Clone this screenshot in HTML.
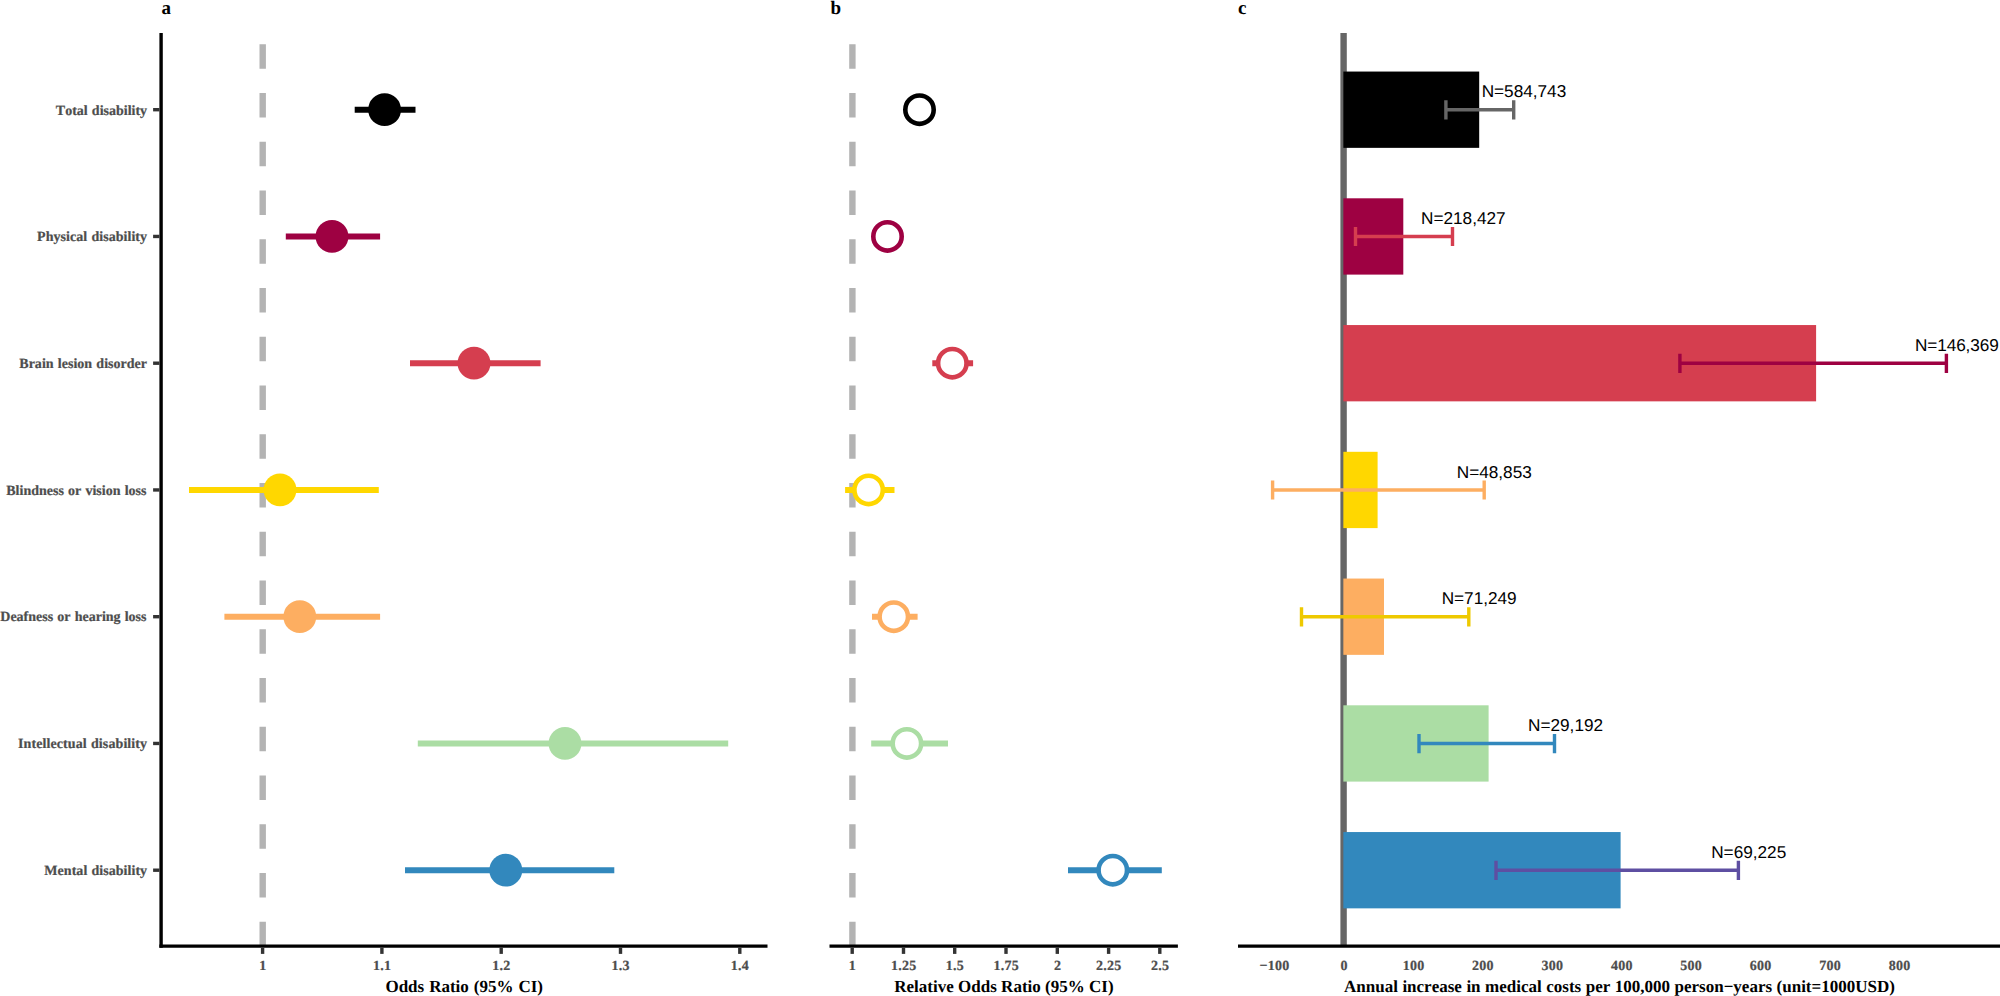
<!DOCTYPE html>
<html lang="en"><head><meta charset="utf-8"><title>Figure</title>
<style>html,body{margin:0;padding:0;background:#fff;}body{width:2000px;height:996px;overflow:hidden;}svg{display:block;}text{font-kerning:none;text-rendering:geometricPrecision;}</style>
</head><body>
<svg width="2000" height="996" viewBox="0 0 2000 996">
<rect width="2000" height="996" fill="#fff"/>
<g id="pa">
<line x1="262.7" y1="946.15" x2="262.7" y2="32.9" stroke="#B3B3B3" stroke-width="6.4" stroke-dasharray="24.4 24.35"/>
<line x1="354.7" y1="109.7" x2="415.5" y2="109.7" stroke="#000000" stroke-width="6.1"/>
<circle cx="384.6" cy="109.7" r="16.4" fill="#000000"/>
<line x1="285.8" y1="236.45" x2="380.1" y2="236.45" stroke="#9E0142" stroke-width="6.1"/>
<circle cx="332.0" cy="236.45" r="16.4" fill="#9E0142"/>
<line x1="410.0" y1="363.2" x2="540.6" y2="363.2" stroke="#D53E4F" stroke-width="6.1"/>
<circle cx="474.0" cy="363.2" r="16.4" fill="#D53E4F"/>
<line x1="189.0" y1="489.95" x2="378.8" y2="489.95" stroke="#FFD700" stroke-width="6.1"/>
<circle cx="280.0" cy="489.95" r="16.4" fill="#FFD700"/>
<line x1="224.4" y1="616.7" x2="380.1" y2="616.7" stroke="#FDAE61" stroke-width="6.1"/>
<circle cx="299.8" cy="616.7" r="16.4" fill="#FDAE61"/>
<line x1="417.8" y1="743.45" x2="728.2" y2="743.45" stroke="#ABDDA4" stroke-width="6.1"/>
<circle cx="565.0" cy="743.45" r="16.4" fill="#ABDDA4"/>
<line x1="405.0" y1="870.2" x2="614.3" y2="870.2" stroke="#3288BD" stroke-width="6.1"/>
<circle cx="505.8" cy="870.2" r="16.4" fill="#3288BD"/>
<line x1="161.1" y1="32.9" x2="161.1" y2="947.8" stroke="#000" stroke-width="3.4"/>
<line x1="159.4" y1="946.15" x2="767.5" y2="946.15" stroke="#000" stroke-width="3.3"/>
<line x1="153.1" y1="109.7" x2="159.5" y2="109.7" stroke="#333" stroke-width="3.4"/>
<text x="147.10" y="115" text-anchor="end" font-family="'Liberation Serif', 'Times New Roman', serif" font-weight="bold" font-size="14" word-spacing="0.65" fill="#4D4D4D" stroke="#4D4D4D" stroke-width="0.22">Total disability</text>
<line x1="153.1" y1="236.45" x2="159.5" y2="236.45" stroke="#333" stroke-width="3.4"/>
<text x="147.15" y="241" text-anchor="end" font-family="'Liberation Serif', 'Times New Roman', serif" font-weight="bold" font-size="14" word-spacing="0.65" letter-spacing="0.047" fill="#4D4D4D" stroke="#4D4D4D" stroke-width="0.22">Physical disability</text>
<line x1="153.1" y1="363.2" x2="159.5" y2="363.2" stroke="#333" stroke-width="3.4"/>
<text x="147.12" y="368" text-anchor="end" font-family="'Liberation Serif', 'Times New Roman', serif" font-weight="bold" font-size="14" word-spacing="0.65" letter-spacing="0.025" fill="#4D4D4D" stroke="#4D4D4D" stroke-width="0.22">Brain lesion disorder</text>
<line x1="153.1" y1="489.95" x2="159.5" y2="489.95" stroke="#333" stroke-width="3.4"/>
<text x="146.51" y="495" text-anchor="end" font-family="'Liberation Serif', 'Times New Roman', serif" font-weight="bold" font-size="14" word-spacing="0.65" letter-spacing="0.009" fill="#4D4D4D" stroke="#4D4D4D" stroke-width="0.22">Blindness or vision loss</text>
<line x1="153.1" y1="616.7" x2="159.5" y2="616.7" stroke="#333" stroke-width="3.4"/>
<text x="146.50" y="621" text-anchor="end" font-family="'Liberation Serif', 'Times New Roman', serif" font-weight="bold" font-size="14" word-spacing="0.65" fill="#4D4D4D" stroke="#4D4D4D" stroke-width="0.22">Deafness or hearing loss</text>
<line x1="153.1" y1="743.45" x2="159.5" y2="743.45" stroke="#333" stroke-width="3.4"/>
<text x="147.19" y="748" text-anchor="end" font-family="'Liberation Serif', 'Times New Roman', serif" font-weight="bold" font-size="14" word-spacing="0.65" letter-spacing="0.095" fill="#4D4D4D" stroke="#4D4D4D" stroke-width="0.22">Intellectual disability</text>
<line x1="153.1" y1="870.2" x2="159.5" y2="870.2" stroke="#333" stroke-width="3.4"/>
<text x="147.14" y="875" text-anchor="end" font-family="'Liberation Serif', 'Times New Roman', serif" font-weight="bold" font-size="14" word-spacing="0.65" letter-spacing="0.037" fill="#4D4D4D" stroke="#4D4D4D" stroke-width="0.22">Mental disability</text>
<line x1="262.6" y1="947.65" x2="262.6" y2="953.9" stroke="#333" stroke-width="3.4"/>
<text x="262.75" y="969.55" text-anchor="middle" font-family="'Liberation Serif', 'Times New Roman', serif" font-weight="bold" font-size="14" letter-spacing="0.25" fill="#4D4D4D" stroke="#4D4D4D" stroke-width="0.22">1</text>
<line x1="381.9" y1="947.65" x2="381.9" y2="953.9" stroke="#333" stroke-width="3.4"/>
<text x="382.05" y="969.55" text-anchor="middle" font-family="'Liberation Serif', 'Times New Roman', serif" font-weight="bold" font-size="14" letter-spacing="0.25" fill="#4D4D4D" stroke="#4D4D4D" stroke-width="0.22">1.1</text>
<line x1="501.2" y1="947.65" x2="501.2" y2="953.9" stroke="#333" stroke-width="3.4"/>
<text x="501.35" y="969.55" text-anchor="middle" font-family="'Liberation Serif', 'Times New Roman', serif" font-weight="bold" font-size="14" letter-spacing="0.25" fill="#4D4D4D" stroke="#4D4D4D" stroke-width="0.22">1.2</text>
<line x1="620.5" y1="947.65" x2="620.5" y2="953.9" stroke="#333" stroke-width="3.4"/>
<text x="620.65" y="969.55" text-anchor="middle" font-family="'Liberation Serif', 'Times New Roman', serif" font-weight="bold" font-size="14" letter-spacing="0.25" fill="#4D4D4D" stroke="#4D4D4D" stroke-width="0.22">1.3</text>
<line x1="739.8" y1="947.65" x2="739.8" y2="953.9" stroke="#333" stroke-width="3.4"/>
<text x="739.95" y="969.55" text-anchor="middle" font-family="'Liberation Serif', 'Times New Roman', serif" font-weight="bold" font-size="14" letter-spacing="0.25" fill="#4D4D4D" stroke="#4D4D4D" stroke-width="0.22">1.4</text>
<text x="464.2" y="991.7" text-anchor="middle" font-family="'Liberation Serif', 'Times New Roman', serif" font-weight="bold" font-size="17" word-spacing="0.72" fill="#000">Odds Ratio (95% CI)</text>
<text x="161.5" y="13.5" font-family="'Liberation Serif', 'Times New Roman', serif" font-weight="bold" font-size="19" fill="#000">a</text>
</g>
<g id="pb">
<line x1="852.4" y1="946.15" x2="852.4" y2="32.9" stroke="#B3B3B3" stroke-width="6.4" stroke-dasharray="24.4 24.35"/>
<line x1="915" y1="109.7" x2="924" y2="109.7" stroke="#000000" stroke-width="6.1"/>
<circle cx="919.5" cy="109.7" r="14.2" fill="#fff" stroke="#000000" stroke-width="4.6"/>
<line x1="884" y1="236.45" x2="891" y2="236.45" stroke="#9E0142" stroke-width="6.1"/>
<circle cx="887.5" cy="236.45" r="14.2" fill="#fff" stroke="#9E0142" stroke-width="4.6"/>
<line x1="932.3" y1="363.2" x2="973.1" y2="363.2" stroke="#D53E4F" stroke-width="6.1"/>
<circle cx="952.3" cy="363.2" r="14.2" fill="#fff" stroke="#D53E4F" stroke-width="4.6"/>
<line x1="845.1" y1="489.95" x2="894.5" y2="489.95" stroke="#FFD700" stroke-width="6.1"/>
<circle cx="868.6" cy="489.95" r="14.2" fill="#fff" stroke="#FFD700" stroke-width="4.6"/>
<line x1="872.0" y1="616.7" x2="917.6" y2="616.7" stroke="#FDAE61" stroke-width="6.1"/>
<circle cx="893.8" cy="616.7" r="14.2" fill="#fff" stroke="#FDAE61" stroke-width="4.6"/>
<line x1="871.2" y1="743.45" x2="948.0" y2="743.45" stroke="#ABDDA4" stroke-width="6.1"/>
<circle cx="906.9" cy="743.45" r="14.2" fill="#fff" stroke="#ABDDA4" stroke-width="4.6"/>
<line x1="1068.0" y1="870.2" x2="1161.8" y2="870.2" stroke="#3288BD" stroke-width="6.1"/>
<circle cx="1112.8" cy="870.2" r="14.2" fill="#fff" stroke="#3288BD" stroke-width="4.6"/>
<line x1="829.5" y1="946.15" x2="1177.9" y2="946.15" stroke="#000" stroke-width="3.3"/>
<line x1="852.2" y1="947.65" x2="852.2" y2="953.9" stroke="#333" stroke-width="3.4"/>
<text x="852.4" y="969.55" text-anchor="middle" font-family="'Liberation Serif', 'Times New Roman', serif" font-weight="bold" font-size="14" letter-spacing="0.25" fill="#4D4D4D" stroke="#4D4D4D" stroke-width="0.22">1</text>
<line x1="903.5" y1="947.65" x2="903.5" y2="953.9" stroke="#333" stroke-width="3.4"/>
<text x="903.7" y="969.55" text-anchor="middle" font-family="'Liberation Serif', 'Times New Roman', serif" font-weight="bold" font-size="14" letter-spacing="0.25" fill="#4D4D4D" stroke="#4D4D4D" stroke-width="0.22">1.25</text>
<line x1="954.7" y1="947.65" x2="954.7" y2="953.9" stroke="#333" stroke-width="3.4"/>
<text x="954.9" y="969.55" text-anchor="middle" font-family="'Liberation Serif', 'Times New Roman', serif" font-weight="bold" font-size="14" letter-spacing="0.25" fill="#4D4D4D" stroke="#4D4D4D" stroke-width="0.22">1.5</text>
<line x1="1006.0" y1="947.65" x2="1006.0" y2="953.9" stroke="#333" stroke-width="3.4"/>
<text x="1006.2" y="969.55" text-anchor="middle" font-family="'Liberation Serif', 'Times New Roman', serif" font-weight="bold" font-size="14" letter-spacing="0.25" fill="#4D4D4D" stroke="#4D4D4D" stroke-width="0.22">1.75</text>
<line x1="1057.3" y1="947.65" x2="1057.3" y2="953.9" stroke="#333" stroke-width="3.4"/>
<text x="1057.5" y="969.55" text-anchor="middle" font-family="'Liberation Serif', 'Times New Roman', serif" font-weight="bold" font-size="14" letter-spacing="0.25" fill="#4D4D4D" stroke="#4D4D4D" stroke-width="0.22">2</text>
<line x1="1108.6" y1="947.65" x2="1108.6" y2="953.9" stroke="#333" stroke-width="3.4"/>
<text x="1108.8" y="969.55" text-anchor="middle" font-family="'Liberation Serif', 'Times New Roman', serif" font-weight="bold" font-size="14" letter-spacing="0.25" fill="#4D4D4D" stroke="#4D4D4D" stroke-width="0.22">2.25</text>
<line x1="1159.8" y1="947.65" x2="1159.8" y2="953.9" stroke="#333" stroke-width="3.4"/>
<text x="1160.0" y="969.55" text-anchor="middle" font-family="'Liberation Serif', 'Times New Roman', serif" font-weight="bold" font-size="14" letter-spacing="0.25" fill="#4D4D4D" stroke="#4D4D4D" stroke-width="0.22">2.5</text>
<text x="1003.95" y="991.7" text-anchor="middle" font-family="'Liberation Serif', 'Times New Roman', serif" font-weight="bold" font-size="17" word-spacing="0.05" fill="#000">Relative Odds Ratio (95% CI)</text>
<text x="830.5" y="13.5" font-family="'Liberation Serif', 'Times New Roman', serif" font-weight="bold" font-size="19" fill="#000">b</text>
</g>
<g id="pc">
<line x1="1343.6" y1="32.9" x2="1343.6" y2="946.15" stroke="#666666" stroke-width="6.4"/>
<rect x="1343.35" y="71.55" width="135.85" height="76.3" fill="#000000"/>
<rect x="1343.35" y="198.30" width="59.95" height="76.3" fill="#9E0142"/>
<rect x="1343.35" y="325.05" width="472.75" height="76.3" fill="#D53E4F"/>
<rect x="1343.35" y="451.80" width="34.25" height="76.3" fill="#FFD700"/>
<rect x="1343.35" y="578.55" width="40.65" height="76.3" fill="#FDAE61"/>
<rect x="1343.35" y="705.30" width="145.25" height="76.3" fill="#ABDDA4"/>
<rect x="1343.35" y="832.05" width="277.25" height="76.3" fill="#3288BD"/>
<path d="M1445.9 100.2V119.4M1445.9 109.7H1513.7M1513.7 100.2V119.4" stroke="#666666" stroke-width="3.4" fill="none"/>
<text x="1481.65" y="97" font-family="'Liberation Sans', Arial, sans-serif" font-size="17.2" fill="#000">N=584,743</text>
<path d="M1355.5 226.9V246.1M1355.5 236.45H1452.5M1452.5 226.9V246.1" stroke="#D53E4F" stroke-width="3.4" fill="none"/>
<text x="1421.05" y="224" font-family="'Liberation Sans', Arial, sans-serif" font-size="17.2" fill="#000">N=218,427</text>
<path d="M1679.9 353.7V372.9M1679.9 363.2H1946.4M1946.4 353.7V372.9" stroke="#9E0142" stroke-width="3.4" fill="none"/>
<text x="1914.95" y="351" font-family="'Liberation Sans', Arial, sans-serif" font-size="17.2" letter-spacing="-0.09" fill="#000">N=146,369</text>
<path d="M1272.6 480.4V499.6M1272.6 489.95H1484.2M1484.2 480.4V499.6" stroke="#FDAE61" stroke-width="3.4" fill="none"/>
<text x="1456.75" y="478" font-family="'Liberation Sans', Arial, sans-serif" font-size="17.2" fill="#000">N=48,853</text>
<path d="M1301.5 607.2V626.4M1301.5 616.7H1468.8M1468.8 607.2V626.4" stroke="#EEC900" stroke-width="3.4" fill="none"/>
<text x="1441.65" y="604" font-family="'Liberation Sans', Arial, sans-serif" font-size="17.2" fill="#000">N=71,249</text>
<path d="M1419.0 734.0V753.2M1419.0 743.45H1554.5M1554.5 734.0V753.2" stroke="#3288BD" stroke-width="3.4" fill="none"/>
<text x="1528.05" y="731" font-family="'Liberation Sans', Arial, sans-serif" font-size="17.2" fill="#000">N=29,192</text>
<path d="M1496.0 860.7V879.9M1496.0 870.2H1738.4M1738.4 860.7V879.9" stroke="#5E4FA2" stroke-width="3.4" fill="none"/>
<text x="1711.20" y="858" font-family="'Liberation Sans', Arial, sans-serif" font-size="17.2" fill="#000">N=69,225</text>
<line x1="1238" y1="946.15" x2="2000" y2="946.15" stroke="#000" stroke-width="3.3"/>
<text x="1274.6" y="969.55" text-anchor="middle" font-family="'Liberation Serif', 'Times New Roman', serif" font-weight="bold" font-size="14" letter-spacing="0.25" fill="#4D4D4D" stroke="#4D4D4D" stroke-width="0.22">−100</text>
<text x="1344.0" y="969.55" text-anchor="middle" font-family="'Liberation Serif', 'Times New Roman', serif" font-weight="bold" font-size="14" letter-spacing="0.25" fill="#4D4D4D" stroke="#4D4D4D" stroke-width="0.22">0</text>
<text x="1413.5" y="969.55" text-anchor="middle" font-family="'Liberation Serif', 'Times New Roman', serif" font-weight="bold" font-size="14" letter-spacing="0.25" fill="#4D4D4D" stroke="#4D4D4D" stroke-width="0.22">100</text>
<text x="1482.9" y="969.55" text-anchor="middle" font-family="'Liberation Serif', 'Times New Roman', serif" font-weight="bold" font-size="14" letter-spacing="0.25" fill="#4D4D4D" stroke="#4D4D4D" stroke-width="0.22">200</text>
<text x="1552.4" y="969.55" text-anchor="middle" font-family="'Liberation Serif', 'Times New Roman', serif" font-weight="bold" font-size="14" letter-spacing="0.25" fill="#4D4D4D" stroke="#4D4D4D" stroke-width="0.22">300</text>
<text x="1621.8" y="969.55" text-anchor="middle" font-family="'Liberation Serif', 'Times New Roman', serif" font-weight="bold" font-size="14" letter-spacing="0.25" fill="#4D4D4D" stroke="#4D4D4D" stroke-width="0.22">400</text>
<text x="1691.2" y="969.55" text-anchor="middle" font-family="'Liberation Serif', 'Times New Roman', serif" font-weight="bold" font-size="14" letter-spacing="0.25" fill="#4D4D4D" stroke="#4D4D4D" stroke-width="0.22">500</text>
<text x="1760.7" y="969.55" text-anchor="middle" font-family="'Liberation Serif', 'Times New Roman', serif" font-weight="bold" font-size="14" letter-spacing="0.25" fill="#4D4D4D" stroke="#4D4D4D" stroke-width="0.22">600</text>
<text x="1830.1" y="969.55" text-anchor="middle" font-family="'Liberation Serif', 'Times New Roman', serif" font-weight="bold" font-size="14" letter-spacing="0.25" fill="#4D4D4D" stroke="#4D4D4D" stroke-width="0.22">700</text>
<text x="1899.6" y="969.55" text-anchor="middle" font-family="'Liberation Serif', 'Times New Roman', serif" font-weight="bold" font-size="14" letter-spacing="0.25" fill="#4D4D4D" stroke="#4D4D4D" stroke-width="0.22">800</text>
<text x="1619.45" y="991.7" text-anchor="middle" font-family="'Liberation Serif', 'Times New Roman', serif" font-weight="bold" font-size="17" word-spacing="0.27" fill="#000">Annual increase in medical costs per 100,000 person−years (unit=1000USD)</text>
<text x="1238" y="13.5" font-family="'Liberation Serif', 'Times New Roman', serif" font-weight="bold" font-size="19" fill="#000">c</text>
</g>
</svg>
</body></html>
